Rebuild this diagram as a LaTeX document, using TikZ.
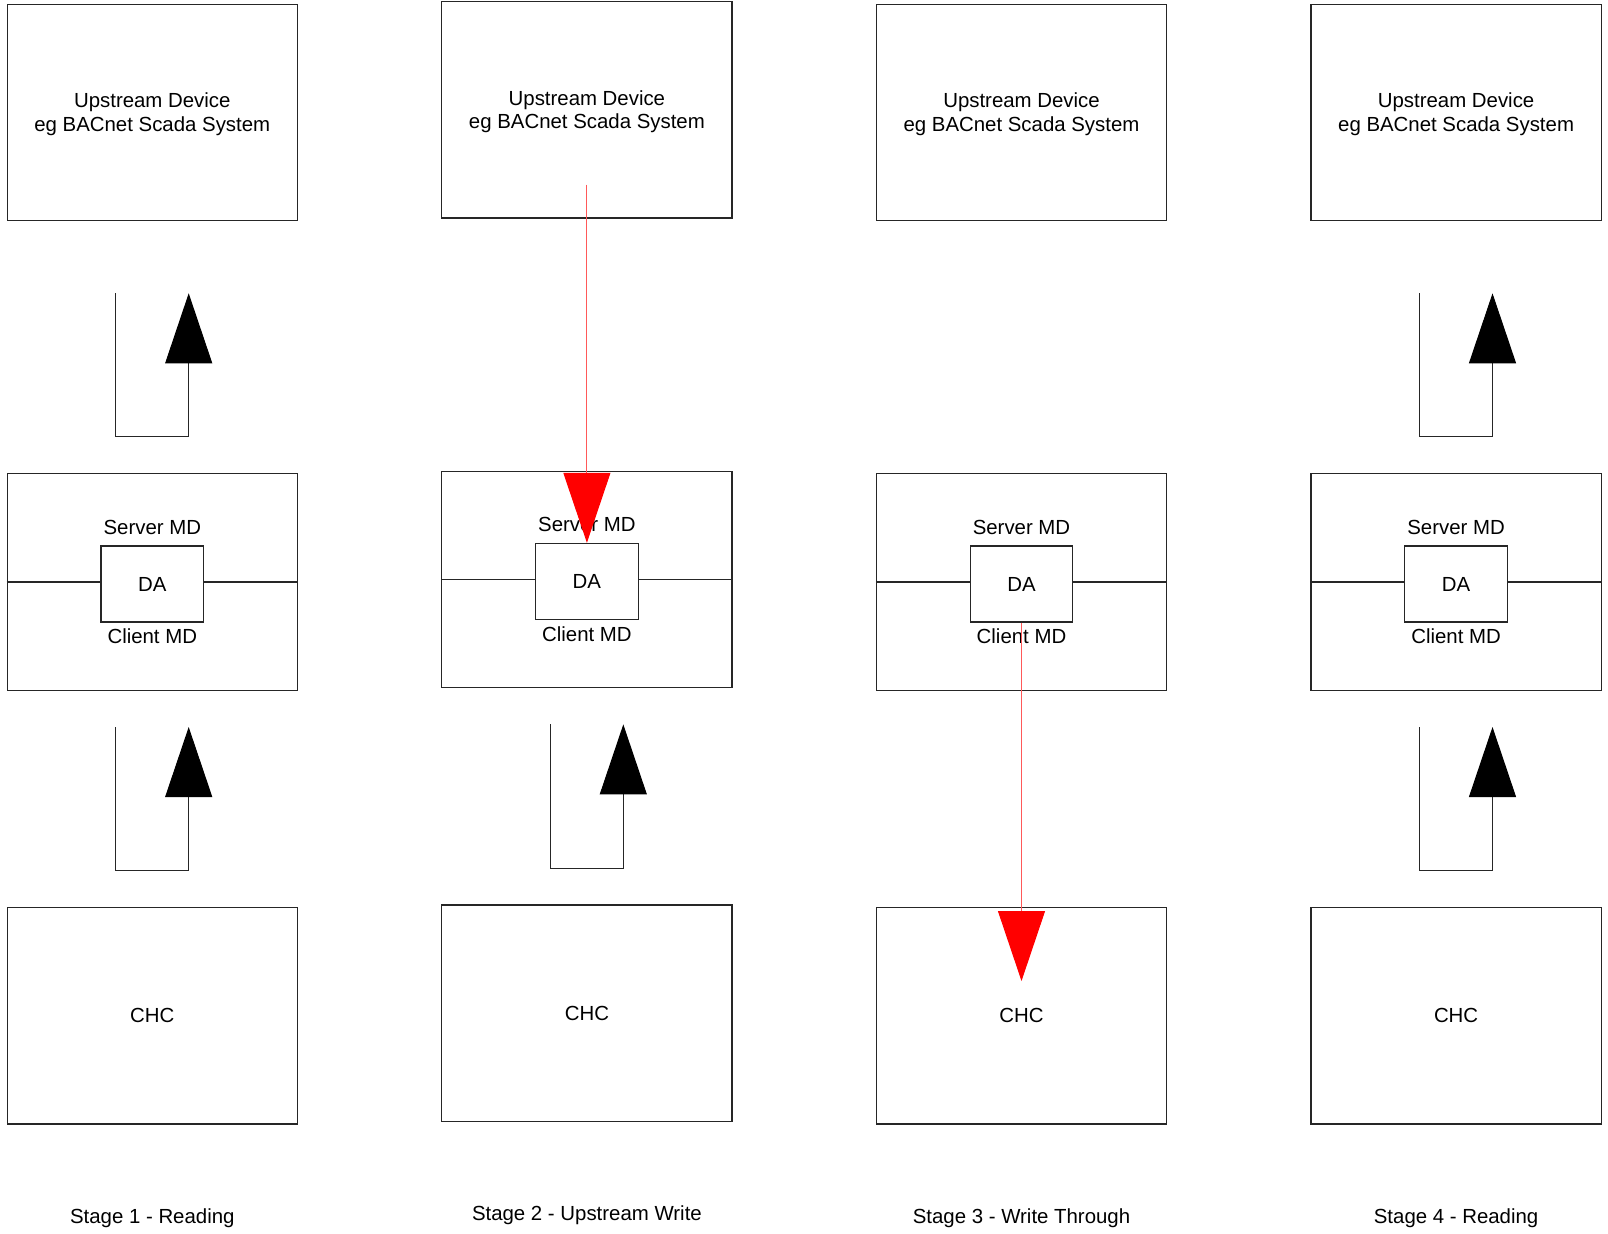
\documentclass[tikz,border=0pt]{standalone}
\usepackage{fontspec}
\setmainfont{Liberation Sans}
\usetikzlibrary{arrows.meta}

\tikzset{
  unitbox/.style={draw=black!85, line width=0.6pt, rectangle, inner sep=0pt,
    minimum width=145.1pt, minimum height=108.2pt, align=center},
  dabox/.style={draw=black!85, line width=0.6pt, rectangle, inner sep=0pt,
    minimum width=51.25pt, minimum height=38pt},
  elbow/.style={draw=black!85, line width=0.5pt,
    -{Triangle[length=35pt,width=23.5pt,black]}},
  write/.style={draw=red!65, line width=0.5pt,
    -{Triangle[length=35pt,width=23.5pt,color=red,fill=red]}}
}

\begin{document}
\begin{tikzpicture}[x=0.5pt,y=-0.5pt,font=\fontsize{10.2}{11.8}\selectfont]
\useasboundingbox (0,0) rectangle (1608,1233);
% one column per stage, from the left
\foreach \i/\cx/\dy/\stage in {1/152.3/0/{Stage 1 - Reading},
    2/586.9/-2.6/{Stage 2 - Upstream Write},
    3/1021.5/0/{Stage 3 - Write Through},
    4/1456.1/0/{Stage 4 - Reading}}
{
  \node[unitbox] (up\i) at (\cx,112.3+\dy) {};
  \node[align=center] (upt\i) at (\cx,114.3+\dy) {Upstream Device\\eg BACnet Scada System};
  \node[unitbox] (md\i) at (\cx,582+\dy) {};
  \node[dabox] (da\i) at (\cx,584+\dy) {DA};
  \node[unitbox] (chc\i) at (\cx,1015.8+\dy) {CHC};
  \node (srv\i) at (\cx,527.5+\dy) {Server MD};
  \node (cli\i) at (\cx,636.5+\dy) {Client MD};
  \node (stage\i) at (\cx,1218+\dy) {\stage};
  \draw[draw=black!85, line width=0.6pt] (md\i.west) -- (md\i.west -| da\i.west)
    (da\i.east |- md\i.east) -- (md\i.east);
  % corners of the lower elbow
  \coordinate (lo\i a) at (\cx-36.4,727+\dy);
  \coordinate (lo\i b) at (\cx+36.4,727+\dy);
  % corners of the upper elbow
  \coordinate (hi\i a) at (\cx-36.4,293.3+\dy);
  \coordinate (hi\i b) at (\cx+36.4,293.3+\dy);
}
% reading arrows
\foreach \i in {1,2,4}
  \draw[elbow] (lo\i a) -- ++(0,143.6) -| (lo\i b);
\foreach \i in {1,4}
  \draw[elbow] (hi\i a) -- ++(0,143.6) -| (hi\i b);
% write arrows
\coordinate (w2) at (586.9,184.6);
\draw[write] (w2) -- (da2.north);
\coordinate (w3) at (1021.5,981);
\draw[write] (da3.south) -- (w3);
\end{tikzpicture}
\end{document}
